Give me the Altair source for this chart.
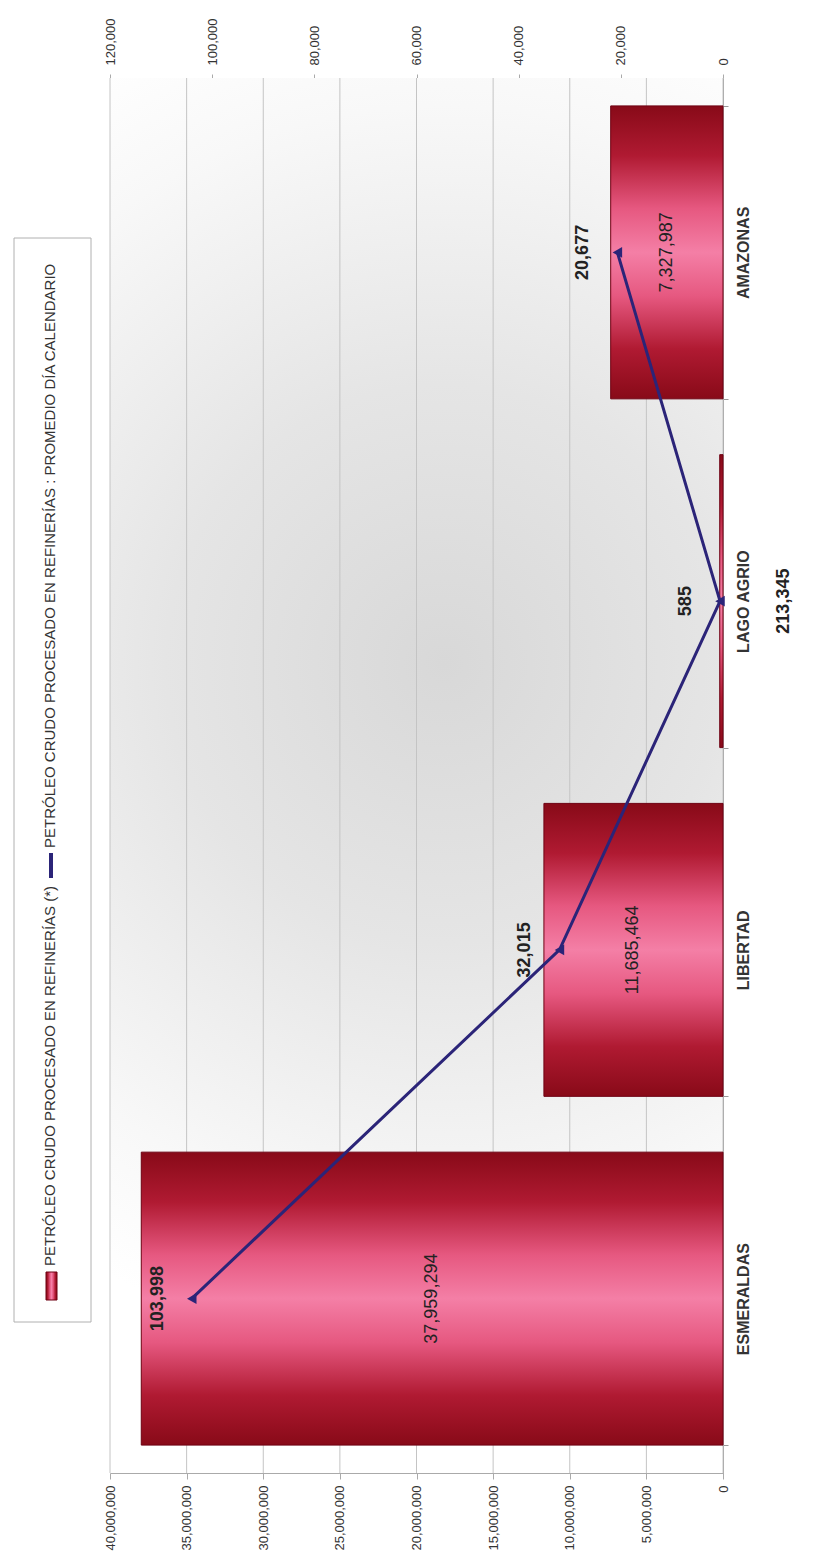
import altair as alt
import pandas as pd

# ---- data ----
categories = ["ESMERALDAS", "LIBERTAD", "LAGO AGRIO", "AMAZONAS"]
crudo_procesado = [37959294, 11685464, 213345, 7327987]
promedio_dia = [103998, 32015, 585, 20677]
left_ticks = [0, 5000000, 10000000, 15000000, 20000000, 25000000, 30000000, 35000000, 40000000]
right_ticks = [0, 20000, 40000, 60000, 80000, 100000, 120000]
legend_labels = [
    "PETRÓLEO CRUDO PROCESADO EN REFINERÍAS (*)",
    "PETRÓLEO CRUDO PROCESADO EN REFINERÍAS : PROMEDIO DÍA CALENDARIO",
]

df = pd.DataFrame({
    "refineria": categories,
    "crudo": crudo_procesado,
    "promedio": promedio_dia,
    "orden": list(range(len(categories))),
})
grid_df = pd.DataFrame({"tick": left_ticks})

order = ["AMAZONAS", "LAGO AGRIO", "LIBERTAD", "ESMERALDAS"]
FONT = "Liberation Sans"
LINE_COLOR = "#2b2478"
W, H = 613, 1395

bar_gradient = {
    "gradient": "linear", "x1": 0, "y1": 0, "x2": 0, "y2": 1,
    "stops": [
        {"offset": 0.0, "color": "#880a18"},
        {"offset": 0.17, "color": "#b01a32"},
        {"offset": 0.35, "color": "#e65880"},
        {"offset": 0.5, "color": "#f47fa6"},
        {"offset": 0.65, "color": "#e65880"},
        {"offset": 0.83, "color": "#b01a32"},
        {"offset": 1.0, "color": "#880a18"},
    ],
}
legend_gradient = dict(bar_gradient, x2=1, y2=0)

view_gradient = {
    "gradient": "radial", "x1": 0.52, "y1": 0.42, "x2": 0.52, "y2": 0.42,
    "r1": 0, "r2": 0.5,
    "stops": [
        {"offset": 0.0, "color": "#d8d8d8"},
        {"offset": 0.4, "color": "#e5e5e5"},
        {"offset": 0.8, "color": "#f8f8f8"},
        {"offset": 1.0, "color": "#ffffff"},
    ],
}

base = alt.Chart(df)

y_enc = alt.Y(
    "refineria:N", sort=order,
    scale=alt.Scale(paddingInner=0.16, paddingOuter=0.08),
    axis=alt.Axis(
        orient="right", title=None, labelAngle=270, labelAlign="center",
        labelBaseline="top", labelFontSize=16, labelFontWeight="bold",
        labelColor="#333333", labelFont=FONT, labelPadding=7,
        tickBand="extent", tickSize=5, tickColor="#999999",
        domainColor="#999999", grid=False,
    ),
)

bar_scale = alt.Scale(domain=[0, 40000000], reverse=True, nice=False)
bar_axis = alt.Axis(
    orient="bottom", values=left_ticks, format=",d", labelAngle=270,
    labelAlign="right", labelBaseline="middle", labelFontSize=13,
    labelColor="#333333", labelFont=FONT, labelPadding=6, labelFlush=False,
    labelOverlap=False, tickSize=6, tickColor="#aaaaaa", domainColor="#aaaaaa",
    grid=False, title=None,
)

line_scale = alt.Scale(domain=[0, 120000], reverse=True, nice=False)
line_axis = alt.Axis(
    orient="top", values=right_ticks, format=",d", labelAngle=270,
    labelAlign="left", labelBaseline="middle", labelFontSize=13,
    labelColor="#333333", labelFont=FONT, labelPadding=9, labelFlush=False,
    labelOverlap=False, tickSize=4, tickColor="#aaaaaa", domainColor="#aaaaaa",
    grid=False, title=None,
)

# ---- plot-area background (soft radial grey) ----
leg_df = pd.DataFrame({"t": [0]})
leg = alt.Chart(leg_df)
backdrop = leg.mark_rect(fill=view_gradient, strokeWidth=0).encode(
    x=alt.value(0), x2=alt.value(W), y=alt.value(0), y2=alt.value(H)
)

gridlines = alt.Chart(grid_df).mark_rule(color="#c4c4c4", strokeWidth=1).encode(
    x=alt.X("tick:Q", scale=bar_scale, axis=bar_axis),
)

bars = base.mark_bar(fill=bar_gradient, stroke="#6e0012", strokeWidth=1).encode(
    x=alt.X("crudo:Q", scale=bar_scale, axis=bar_axis),
    y=y_enc,
)

bar_labels = base.mark_text(
    angle=270, fontSize=18, font=FONT, color="#222222", align="center", baseline="middle"
).encode(
    x=alt.X("mid:Q", scale=bar_scale, axis=bar_axis),
    y=y_enc,
    text=alt.Text("crudo:Q", format=",d"),
).transform_calculate(mid="datum.crudo / 2").transform_filter(
    "datum.refineria != 'LAGO AGRIO'"
)

small_bar_label = base.mark_text(
    angle=270, fontSize=18, font=FONT, fontWeight="bold", color="#222222",
    align="center", baseline="middle", xOffset=63,
).encode(
    x=alt.X("mid:Q", scale=bar_scale, axis=bar_axis),
    y=y_enc,
    text=alt.Text("crudo:Q", format=",d"),
).transform_calculate(mid="datum.crudo / 2").transform_filter(
    "datum.refineria == 'LAGO AGRIO'"
)

bar_layer = alt.layer(gridlines, bars, bar_labels, small_bar_label)

x_line = alt.X("promedio:Q", scale=line_scale, axis=line_axis)

line = base.mark_line(color=LINE_COLOR, strokeWidth=3).encode(
    x=x_line, y=y_enc, order=alt.Order("orden:Q"),
)
points = base.mark_point(
    shape="triangle-left", filled=True, size=120, color=LINE_COLOR, opacity=1
).encode(x=x_line, y=y_enc)
line_labels = base.mark_text(
    angle=270, fontSize=18, font=FONT, fontWeight="bold", color="#222222",
    align="center", baseline="middle", xOffset=-34,
).encode(x=x_line, y=y_enc, text=alt.Text("promedio:Q", format=",d"))

line_layer = alt.layer(line, points, line_labels)

# ---- legend (drawn by hand, rotated like the rest of the chart) ----
legend_box = leg.mark_rect(fill="white", stroke="#b0b0b0", strokeWidth=1).encode(
    x=alt.value(-96), x2=alt.value(-19), y=alt.value(160), y2=alt.value(1244)
)
legend_bar = leg.mark_rect(fill=legend_gradient, stroke="#6e0012", strokeWidth=1).encode(
    x=alt.value(-64), x2=alt.value(-53), y=alt.value(1194), y2=alt.value(1222)
)
legend_text1 = leg.mark_text(
    angle=270, fontSize=15, font=FONT, color="#333333", align="left", baseline="middle"
).encode(x=alt.value(-60), y=alt.value(1188), text=alt.value(legend_labels[0]))
legend_line = leg.mark_rule(color=LINE_COLOR, strokeWidth=4).encode(
    x=alt.value(-59), y=alt.value(775), y2=alt.value(800)
)
legend_text2 = leg.mark_text(
    angle=270, fontSize=15, font=FONT, color="#333333", align="left", baseline="middle"
).encode(x=alt.value(-60), y=alt.value(770), text=alt.value(legend_labels[1]))

chart = alt.layer(
    backdrop, bar_layer, line_layer,
    legend_box, legend_bar, legend_text1, legend_line, legend_text2,
).resolve_scale(x="independent").properties(
    width=W, height=H,
    autosize=alt.AutoSizeParams(type="none"),
    padding={"left": 102, "top": 70, "right": 82, "bottom": 80},
    background="white",
).configure_view(stroke=None)

chart.save("out.html", embed_options={"renderer": "svg", "actions": False})
